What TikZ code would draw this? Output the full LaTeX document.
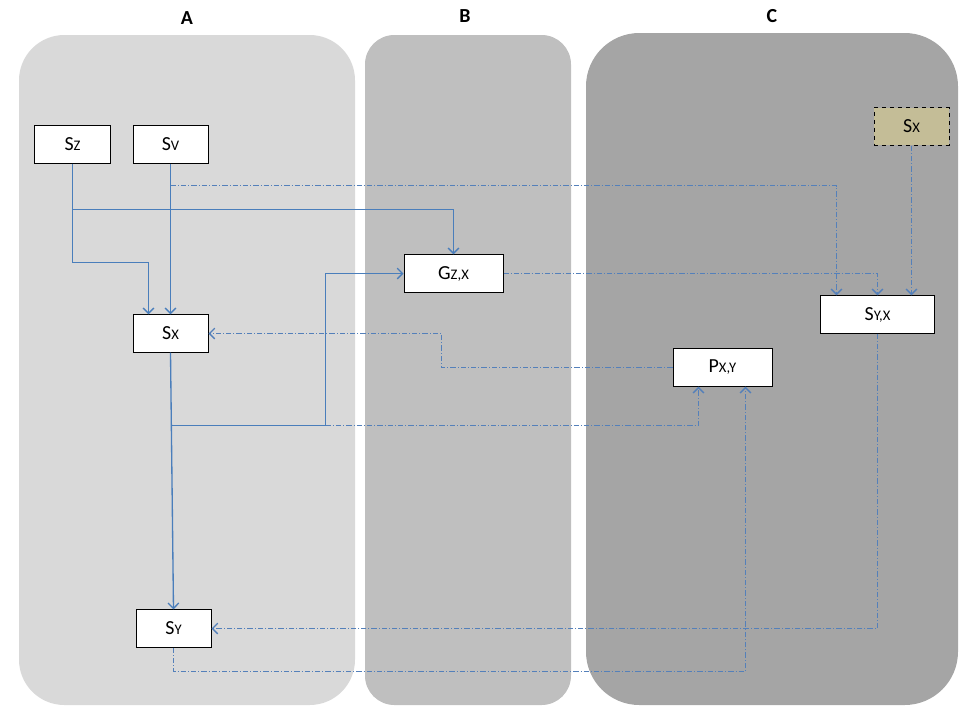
\documentclass[tikz,border=0pt]{standalone}
\usepackage{fontspec}
\setmainfont{Carlito}
\usetikzlibrary{arrows.meta}
\definecolor{panelA}{RGB}{217,217,217}
\definecolor{panelB}{RGB}{191,191,191}
\definecolor{panelC}{RGB}{165,165,165}
\definecolor{tanbox}{RGB}{196,189,151}
\definecolor{linkblue}{RGB}{74,126,187}
\definecolor{dashblue}{RGB}{84,128,186}
\newcommand{\lowtxt}[1]{{\fontsize{11}{11}\selectfont #1}}
\begin{document}
\begin{tikzpicture}[x=0.75bp, y=-0.75bp,
    box/.style={draw, fill=white, line width=0.75bp, inner sep=0pt,
      minimum width=56.25bp, minimum height=28bp,
      font=\fontsize{15}{15}\selectfont},
    wide/.style={minimum width=74.25bp},
    panel/.style={font=\bfseries\fontsize{15}{15}\selectfont},
    link/.style={draw=linkblue, line width=1bp,
      -{Straight Barb[length=4bp, width=8bp]}},
    dlink/.style={draw=dashblue, line width=1bp,
      dash pattern=on 4bp off 1.5bp on 0.75bp off 1.5bp,
      -{Straight Barb[length=4bp, width=8bp]}}]
    \useasboundingbox (0,0) rectangle (960,720);
    % panels
    \fill[panelA, rounded corners=34bp] (19,35) rectangle (355,705);
    \fill[panelB, rounded corners=22bp] (365,35) rectangle (571,705);
    \fill[panelC, rounded corners=40bp] (586,33) rectangle (958,705);
    \node[panel] (la) at (187,18) {A};
    \node[panel] (lb) at (465,16) {B};
    \node[panel] (lc) at (772,16) {C};
    \begin{scope}[every node/.style={box}]
      \node (sz) at (72.5,144.5) {S\lowtxt{Z}};
      \node (sv) at (170.5,144.5) {S\lowtxt{V}};
      \node (sx) at (170.5,333.5) {S\lowtxt{X}};
      \node (sy) at (173.5,628.5) {S\lowtxt{Y}};
      \node [wide] (gzx) at (453.5,273.5) {G\lowtxt{Z,X}};
      \node [wide] (pxy) at (722.5,367.5) {P\lowtxt{X,Y}};
      \node [minimum width=85.5bp] (syx) at (877.5,314.5) {S\lowtxt{Y,X}};
      \node [fill=tanbox, dashed] (sxc) at (911.5,126.5) {S\lowtxt{X}};
    \end{scope}
    \coordinate (zsplit) at (72.5,209.5);
    \coordinate (vsplit) at (170.5,185.5);
    \coordinate (xsplit) at (171.5,425.5);
    \coordinate (xbend) at (325.5,425.5);
    % solid links
    \draw[link] (sz.south) -- (72.5,262.5) -| ([xshift=-16.5bp]sx.north);
    \draw[link] (zsplit) -| (gzx.north);
    \draw[link] (sv.south) -- (sx.north);
    \draw[link] (sx.south) -- (sy.north);
    \draw[link] (xsplit) -- (xbend) |- (gzx.west);
    % dash-dot links
    \draw[dlink] (vsplit) -| ([xshift=-30.75bp]syx.north);
    \draw[dlink] (gzx.east) -| (syx.north);
    \draw[dlink] (sxc.south) -- (sxc.south |- syx.north);
    \draw[dlink] (pxy.west) -- (441.5,367.5) |- (sx.east);
    \draw[dlink] (xbend) -| ([xshift=-18bp]pxy.south);
    \draw[dlink] (syx.south) |- (sy.east);
    \draw[dlink] (sy.south) -- (173.5,671.5) -| ([xshift=17.25bp]pxy.south);
  \end{tikzpicture}
\end{document}
